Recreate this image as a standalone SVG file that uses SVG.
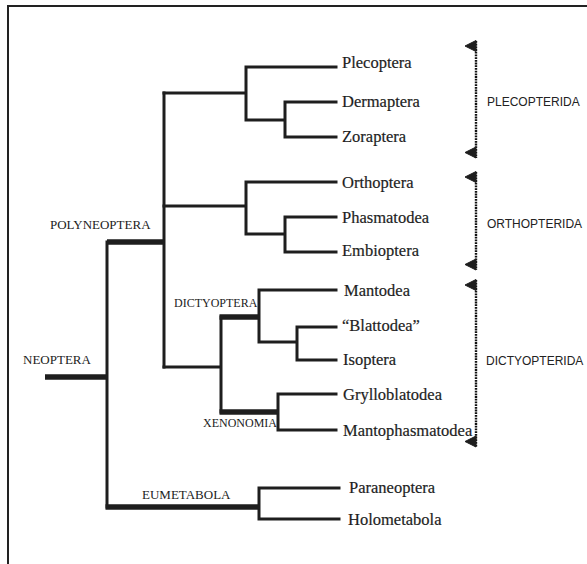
<svg xmlns="http://www.w3.org/2000/svg" width="587" height="564" viewBox="0 0 587 564">
<style>
.br{fill:none;stroke:#1e1e1e;stroke-width:3;stroke-linecap:square;stroke-linejoin:miter}
.thick{fill:none;stroke:#1e1e1e;stroke-width:5.5;stroke-linecap:butt}
.leaf{font-family:"Liberation Serif",serif;font-size:16.5px;fill:#1e1e1e;stroke:#1e1e1e;stroke-width:0.2}
.clade{font-family:"Liberation Serif",serif;font-size:13px;fill:#222}
.clade12{font-family:"Liberation Serif",serif;font-size:12px;fill:#222}
.grp{font-family:"Liberation Sans",sans-serif;font-size:12px;fill:#222}
.dot{fill:none;stroke:#111;stroke-width:2.4;stroke-dasharray:1.8 0.9}
.ah{fill:#1e1e1e;stroke:#1e1e1e;stroke-width:1;stroke-linejoin:round}
</style>
<defs>
<path id="arr" d="M0,0 L11,-5.5 L11,5.5 Z"/>
</defs>
<rect x="8" y="6" width="640" height="640" fill="#fff" stroke="#222" stroke-width="2"/>
<g id="connectors">
<path class="br" d="M164,93 V367"/>
<path class="br" d="M164,93 H246 M246,67 V120 M246,67 H336 M246,120 H285 M285,102 V137 M285,102 H336 M285,137 H336"/>
<path class="br" d="M164,206 H246 M246,182 V234 M246,182 H336 M246,234 H285 M285,217 V252 M285,217 H336 M285,252 H336"/>
<path class="br" d="M164,367 H221 M221,317 V412"/>
<path class="br" d="M259,290 V342 M259,290 H336 M259,342 H297 M297,327 V360 M297,327 H336 M297,360 H336"/>
<path class="br" d="M278,394 V430 M278,394 H336 M278,430 H336"/>
<path class="br" d="M107,242 V507"/>
<path class="br" d="M259,488 V519 M259,488 H339 M259,519 H339"/>
<path class="thick" d="M45,377 H107"/>
<path class="thick" d="M107,242 H165"/>
<path class="thick" d="M219.5,317 H260"/>
<path class="thick" d="M219.5,412 H279"/>
<path class="thick" d="M105.5,507 H260"/>
</g>
<g id="leaf-plecoptera"><text class="leaf" x="342" y="68">Plecoptera</text></g>
<g id="leaf-dermaptera"><text class="leaf" x="342" y="106.5">Dermaptera</text></g>
<g id="leaf-zoraptera"><text class="leaf" x="342" y="141.5">Zoraptera</text></g>
<g id="leaf-orthoptera"><text class="leaf" x="342" y="188">Orthoptera</text></g>
<g id="leaf-phasmatodea"><text class="leaf" x="342" y="222.5">Phasmatodea</text></g>
<g id="leaf-embioptera"><text class="leaf" x="342" y="256">Embioptera</text></g>
<g id="leaf-mantodea"><text class="leaf" x="344" y="295.5">Mantodea</text></g>
<g id="leaf-blattodea"><text class="leaf" x="342" y="331">“Blattodea”</text></g>
<g id="leaf-isoptera"><text class="leaf" x="343" y="365">Isoptera</text></g>
<g id="leaf-grylloblatodea"><text class="leaf" x="343" y="400">Grylloblatodea</text></g>
<g id="leaf-mantophasmatodea"><text class="leaf" x="343" y="436">Mantophasmatodea</text></g>
<g id="leaf-paraneoptera"><text class="leaf" x="349" y="493">Paraneoptera</text></g>
<g id="leaf-holometabola"><text class="leaf" x="348" y="524.5">Holometabola</text></g>
<g id="clade-neoptera"><text class="clade" x="23" y="364">NEOPTERA</text></g>
<g id="clade-polyneoptera"><text class="clade" x="50" y="229">POLYNEOPTERA</text></g>
<g id="clade-dictyoptera"><text class="clade12" x="174" y="307">DICTYOPTERA</text></g>
<g id="clade-xenonomia"><text class="clade12" x="203" y="427">XENONOMIA</text></g>
<g id="clade-eumetabola"><text class="clade" x="142" y="499">EUMETABOLA</text></g>
<g id="group-plecopterida">
<path class="dot" d="M476,41 V158"/>
<use href="#arr" class="ah" x="465" y="46"/>
<use href="#arr" class="ah" x="465" y="152.5"/>
<text class="grp" x="487" y="106">PLECOPTERIDA</text>
</g>
<g id="group-orthopterida">
<path class="dot" d="M476,172 V270"/>
<use href="#arr" class="ah" x="465" y="177"/>
<use href="#arr" class="ah" x="465" y="264.5"/>
<text class="grp" x="487" y="228">ORTHOPTERIDA</text>
</g>
<g id="group-dictyopterida">
<path class="dot" d="M476,280 V447"/>
<use href="#arr" class="ah" x="465" y="285"/>
<use href="#arr" class="ah" x="465" y="441.5"/>
<text class="grp" x="486" y="365">DICTYOPTERIDA</text>
</g>
</svg>
